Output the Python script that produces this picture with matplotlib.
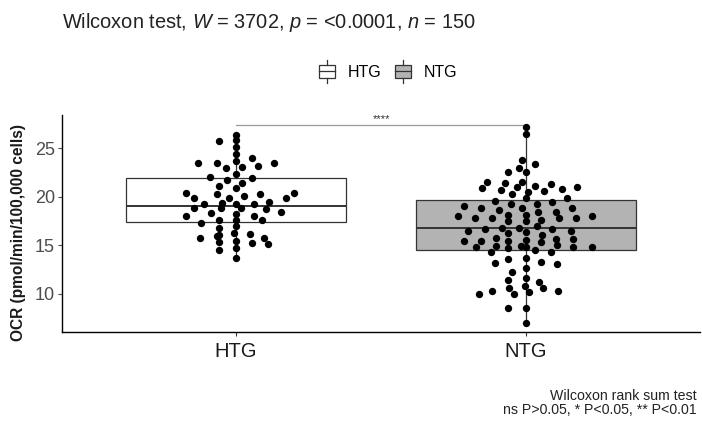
import matplotlib
matplotlib.use("Agg")
import matplotlib.pyplot as plt
from matplotlib.patches import Rectangle, Patch
from matplotlib.lines import Line2D
from matplotlib.legend_handler import HandlerBase

plt.rcParams['font.family'] = ['Liberation Sans', 'DejaVu Sans']
plt.rcParams['mathtext.fontset'] = 'custom'
plt.rcParams['mathtext.rm'] = 'Liberation Sans'
plt.rcParams['mathtext.it'] = 'Liberation Sans:italic'

# --- data ---
groups = ['HTG', 'NTG']
fills = ['white', '#b3b3b3']

htg_values = [25.75, 26.33, 25.82, 25.13, 24.35, 23.66, 23.93, 23.49, 23.42, 23.42,
              22.91, 23.08, 23.18, 22.29, 21.98, 21.71, 21.95, 21.36, 21.09, 20.92,
              20.34, 20.23, 20.06, 20.27, 20.34, 19.82, 19.82, 19.89, 19.21, 19.31,
              19.21, 19.21, 19.41, 18.80, 18.80, 18.80, 18.73, 18.28, 18.04, 18.04,
              18.38, 18.18, 17.60, 17.60, 17.60, 17.32, 16.81, 16.98, 15.99, 16.23,
              16.12, 15.78, 15.37, 15.44, 15.71, 15.20, 15.13, 14.51, 14.68, 13.73,
              16.05]
htg_jitter = [-0.059, 0.0, 0.0, 0.0, 0.0, 0.0, 0.056, 0.131, -0.131, -0.067,
              -0.036, 0.022, 0.077, 0.0, -0.090, -0.032, 0.054, 0.022, -0.059, 0.0,
              -0.173, -0.067, 0.028, 0.083, 0.200, -0.145, -0.024, 0.171, -0.110, -0.047,
              0.0, 0.062, 0.114, -0.145, -0.053, 0.016, 0.102, -0.087, -0.173, 0.062,
              0.154, 0.0, -0.059, 0.0, 0.091, -0.122, -0.059, 0.0, -0.064, -0.006,
              0.047, -0.124, -0.059, 0.0, 0.097, 0.054, 0.111, -0.059, 0.0, 0.0,
              -0.059]

ntg_values = [27.19, 26.40, 23.77, 23.35, 22.98, 22.50, 22.50, 21.47, 21.37, 21.54,
              20.85, 20.68, 20.96, 21.13, 21.26, 20.58, 20.78, 21.02, 20.24, 20.44,
              19.89, 19.89, 19.55, 19.41, 19.07, 18.87, 18.63, 19.21, 18.80, 19.21,
              18.46, 18.46, 18.87, 18.04, 17.84, 17.84, 18.11, 18.11, 17.77, 17.84,
              18.04, 17.50, 17.50, 17.60, 16.50, 16.67, 16.74, 16.81, 16.98, 16.67,
              16.50, 16.23, 16.33, 16.05, 15.44, 15.44, 15.71, 15.44, 15.54, 15.64,
              15.64, 14.79, 14.96, 14.68, 14.79, 14.96, 15.30, 15.03, 14.85, 14.85,
              14.34, 14.51, 14.34, 13.14, 13.55, 13.66, 13.31, 13.04, 12.70, 12.22,
              11.60, 11.43, 11.26, 10.85, 10.64, 10.57, 10.30, 9.99, 9.96, 10.23,
              10.30, 8.59, 8.59, 6.98]
ntg_jitter = [0.0, 0.0, -0.013, 0.030, -0.024, 0.0, -0.061, -0.133, -0.072, -0.013,
              -0.151, -0.087, -0.032, 0.030, 0.085, 0.062, 0.125, 0.177, -0.049, 0.006,
              0.142, 0.0, -0.107, 0.089, -0.214, -0.156, -0.095, -0.053, -0.013, 0.039,
              0.041, 0.102, 0.158, -0.233, -0.176, -0.118, -0.061, 0.0, 0.114, 0.171,
              0.229, -0.061, 0.0, 0.051, -0.199, -0.141, -0.082, -0.024, 0.039, 0.091,
              0.154, -0.061, 0.0, 0.056, -0.214, -0.156, -0.105, -0.061, 0.0, 0.102,
              0.162, -0.171, -0.102, -0.061, 0.0, -0.018, 0.051, 0.108, 0.162, 0.226,
              -0.122, 0.031, 0.085, -0.107, -0.061, 0.0, 0.051, 0.108, 0.0, -0.047,
              0.0, -0.061, 0.043, -0.002, -0.059, 0.059, -0.116, -0.164, -0.041, 0.010,
              0.110, -0.061, 0.0, 0.0]

# box statistics (q1, median, q3, whisker low, whisker high)
q1 = [17.4, 14.5]
medians = [19.0, 16.8]
q3 = [21.9, 19.65]
whislo = [13.7, 7.0]
whishi = [26.3, 27.2]

title = 'Wilcoxon test, $\\it{W}$ = 3702, $\\it{p}$ = <0.0001, $\\it{n}$ = 150'
bracket_y = 27.4
signif = '****'


class BoxHandler(HandlerBase):
    """Legend key drawn like ggplot's boxplot glyph."""
    def create_artists(self, legend, orig_handle, xdescent, ydescent,
                       width, height, fontsize, trans):
        x0, y0 = -xdescent, -ydescent
        cx = x0 + width / 2
        rect = Rectangle((x0, y0 + height * 0.05), width, height * 0.9,
                         facecolor=orig_handle.get_facecolor(),
                         edgecolor='#333333', lw=0.9, transform=trans)
        med = Line2D([x0, x0 + width], [y0 + height * 0.5] * 2,
                     color='#333333', lw=0.9, transform=trans)
        wt = Line2D([cx, cx], [y0 + height * 0.95, y0 + height * 1.3],
                    color='#333333', lw=0.9, transform=trans)
        wb = Line2D([cx, cx], [y0 + height * 0.05, y0 - height * 0.3],
                    color='#333333', lw=0.9, transform=trans)
        return [rect, med, wt, wb]


fig = plt.figure(figsize=(7.02, 4.21), dpi=100)
ax = fig.add_axes([0.0883, 0.2114, 0.909, 0.5154])

stats = []
for i, g in enumerate(groups):
    stats.append(dict(label=g, q1=q1[i], med=medians[i], q3=q3[i],
                      whislo=whislo[i], whishi=whishi[i], fliers=[]))
bp = ax.bxp(stats, positions=[1, 2], widths=0.76, patch_artist=True,
            showcaps=False, zorder=1,
            boxprops=dict(edgecolor='#333333', lw=0.9),
            medianprops=dict(color='#333333', lw=1.4),
            whiskerprops=dict(color='#333333', lw=0.9))
for patch, fc in zip(bp['boxes'], fills):
    patch.set_facecolor(fc)

for pos, vals, jit in [(1, htg_values, htg_jitter), (2, ntg_values, ntg_jitter)]:
    ax.scatter([pos + j for j in jit], vals, s=28, color='black', zorder=3,
               linewidths=0)

# significance bracket
ax.plot([1, 2], [bracket_y, bracket_y], color='#999999', lw=0.9, zorder=2)
ax.text(1.5, bracket_y + 0.05, signif, ha='center', va='bottom', fontsize=8,
        color='#333333')

ax.set_xlim(0.4, 2.6)
ax.set_ylim(6.09, 28.39)
ax.set_xticks([1, 2])
ax.set_xticklabels(groups, fontsize=14.5)
ax.set_yticks([10, 15, 20, 25])
ax.tick_params(axis='y', labelsize=13, colors='#4d4d4d', length=3, pad=2)
ax.tick_params(axis='x', length=3, colors='#333333', pad=4)
for lab in ax.get_xticklabels():
    lab.set_color('#1a1a1a')
for s in ['top', 'right']:
    ax.spines[s].set_visible(False)
for s in ['left', 'bottom']:
    ax.spines[s].set_color('black')
    ax.spines[s].set_linewidth(1.0)
ax.set_ylabel('OCR (pmol/min/100,000 cells)', fontsize=11.2, fontweight='bold',
              color='#1a1a1a')
ax.yaxis.set_label_coords(-0.056, 0.46)

fig.text(0.088, 0.947, title, fontsize=14.4, ha='left', va='center', color='#222222')

handles = [Patch(facecolor=f) for f in fills]
fig.legend(handles, groups, loc='center', bbox_to_anchor=(0.553, 0.829), ncol=2,
           frameon=False, fontsize=11.5, handlelength=1.05, handleheight=1.0,
           columnspacing=0.8, handletextpad=0.8,
           handler_map={Patch: BoxHandler()})

fig.text(0.993, 0.042, 'Wilcoxon rank sum test\nns P>0.05, * P<0.05, ** P<0.01',
         ha='right', va='center', fontsize=10.2, linespacing=1.0, color='#222222')

fig.savefig('out.png', dpi=100)
